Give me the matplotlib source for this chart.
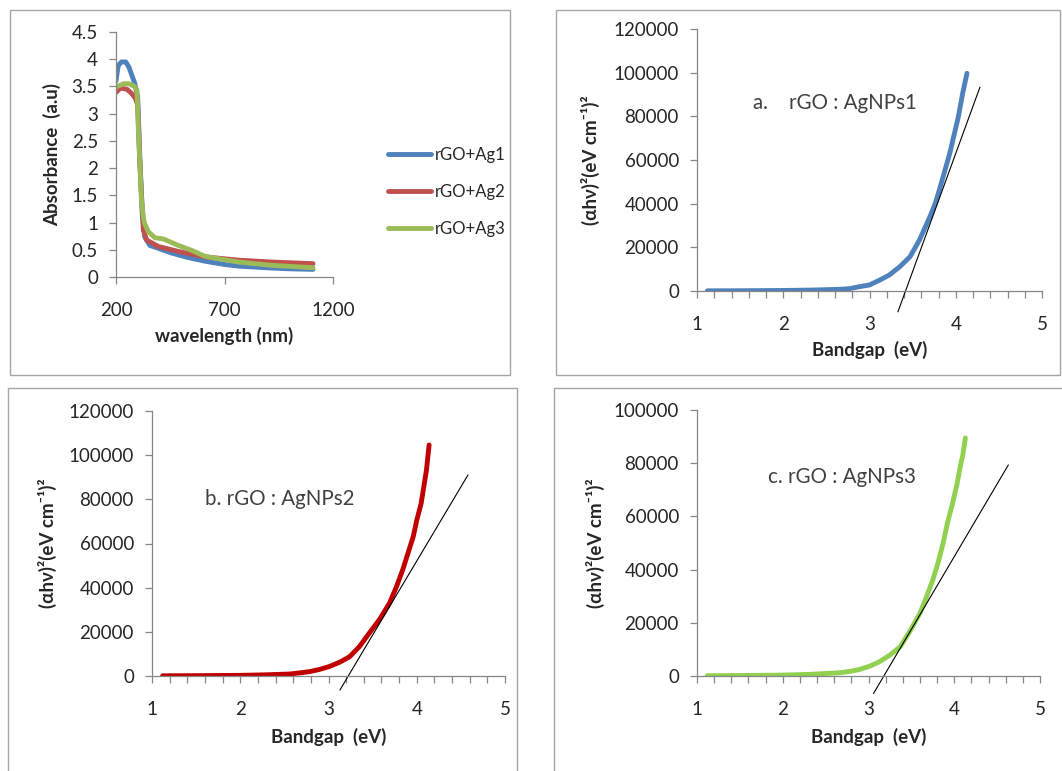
import numpy as np
import matplotlib
matplotlib.use('Agg')
import matplotlib.pyplot as plt
from matplotlib.patches import Rectangle
from matplotlib.ticker import MultipleLocator

plt.rcParams['font.family'] = ['Lato', 'DejaVu Sans']

# UV-vis absorbance
wl_ag1 = [200, 210, 225, 245, 260, 287, 300, 310, 321, 333, 356, 400, 456, 530, 610, 700, 763, 850, 916, 1000, 1108]
abs_ag1 = [3.6, 3.88, 3.95, 3.95, 3.85, 3.55, 3.3, 2.2, 1.16, 0.73, 0.58, 0.52, 0.44, 0.36, 0.29, 0.23, 0.2, 0.18, 0.165, 0.15, 0.14]
wl_ag2 = [200, 220, 250, 270, 290, 300, 310, 326, 341, 395, 487, 610, 763, 916, 1108]
abs_ag2 = [3.39, 3.47, 3.45, 3.38, 3.28, 3.15, 2.08, 0.86, 0.68, 0.56, 0.47, 0.37, 0.31, 0.275, 0.245]
wl_ag3 = [200, 235, 260, 285, 297, 303, 318, 330, 349, 380, 400, 418, 487, 548, 610, 763, 916, 1108]
abs_ag3 = [3.49, 3.55, 3.55, 3.5, 3.43, 2.7, 1.35, 1.0, 0.83, 0.72, 0.71, 0.70, 0.58, 0.49, 0.38, 0.275, 0.215, 0.17]

# Tauc plots (alpha h nu)^2 vs photon energy
e_a = [1.12, 1.5, 2.0, 2.3, 2.65, 2.77, 2.88, 3.0, 3.12, 3.23, 3.35, 3.47, 3.58, 3.64, 3.70,
       3.76, 3.81, 3.87, 3.93, 3.98, 4.03, 4.08, 4.13]
t_a = [80, 120, 250, 400, 780, 1070, 1970, 2750, 5040, 7330, 11100, 15700, 23400, 28700, 34000,
       39800, 46300, 54600, 63000, 71400, 79800, 90500, 99700]
fit_a = [3.33, 4.28]
fit_a_y = [-9480, 93300]

e_b = [1.12, 1.5, 2.0, 2.3, 2.56, 2.67, 2.79, 2.90, 3.01, 3.13, 3.24, 3.35, 3.46, 3.58, 3.69,
       3.77, 3.84, 3.90, 3.96, 4.00, 4.05, 4.08, 4.11, 4.14]
t_b = [100, 150, 300, 550, 900, 1400, 2000, 3000, 4300, 6300, 8750, 13300, 19300, 25700, 32900,
       40400, 48000, 55500, 63100, 70500, 78200, 85700, 93300, 104600]
fit_b = [3.13, 4.58]
fit_b_y = [-6300, 91000]

e_c = [1.12, 1.5, 2.0, 2.3, 2.67, 2.79, 2.90, 3.02, 3.13, 3.25, 3.37, 3.48, 3.60, 3.67, 3.75,
       3.81, 3.87, 3.92, 3.98, 4.03, 4.07, 4.10, 4.13]
t_c = [100, 180, 350, 600, 1240, 1760, 2500, 3760, 5400, 7900, 11000, 16700, 23600, 29200, 36100,
       42400, 49900, 57400, 64900, 71800, 78700, 83100, 89500]
fit_c = [3.06, 4.63]
fit_c_y = [-6500, 79300]

W, H = 1062, 771
fig = plt.figure(figsize=(W / 100, H / 100), dpi=100)

axis_col = '#868686'
txt_col = '#262626'
fs = 13.5


def box(x0, y0, x1, y1):
    fig.patches.append(Rectangle((x0 / W, 1 - y1 / H), (x1 - x0) / W, (y1 - y0) / H,
                                 transform=fig.transFigure, fill=False,
                                 edgecolor='#a6a6a6', lw=1.0))


def make_ax(x0, x1, y0, y1):
    ax = fig.add_axes([x0 / W, 1 - y1 / H, (x1 - x0) / W, (y1 - y0) / H])
    for s in ['top', 'right']:
        ax.spines[s].set_visible(False)
    for s in ['left', 'bottom']:
        ax.spines[s].set_color(axis_col)
        ax.spines[s].set_linewidth(0.9)
    ax.tick_params(which='both', direction='out', color=axis_col, labelcolor=txt_col,
                   labelsize=fs, width=0.9, length=5)
    ax.tick_params(axis='x', pad=13)
    ax.tick_params(axis='y', pad=8)
    return ax


box(10, 10, 510, 375)
box(556, 10, 1060, 375)
box(8, 388, 517, 775)
box(554, 388, 1066, 775)

# top-left: absorbance
ax1 = make_ax(116, 333, 32, 277)
ax1.plot(wl_ag1, abs_ag1, color='#4F81BD', lw=3.5, label='rGO+Ag1', solid_capstyle='round')
ax1.plot(wl_ag2, abs_ag2, color='#C0504D', lw=3.5, label='rGO+Ag2', solid_capstyle='round')
ax1.plot(wl_ag3, abs_ag3, color='#9BBB59', lw=3.5, label='rGO+Ag3', solid_capstyle='round')
ax1.set_xlim(200, 1200)
ax1.set_ylim(0, 4.5)
ax1.set_xticks([200, 700, 1200])
ax1.set_yticks(np.arange(0, 4.51, 0.5))
ax1.set_yticklabels(['0', '0.5', '1', '1.5', '2', '2.5', '3', '3.5', '4', '4.5'])
ax1.set_xlabel('wavelength (nm)', fontsize=fs, fontweight='bold', color=txt_col)
ax1.set_ylabel('Absorbance  (a.u)', fontsize=fs, fontweight='bold', color=txt_col)
ax1.xaxis.set_label_coords(0.5, -(336 - 277) / 245)
ax1.xaxis.label.set_va('center')
ax1.yaxis.set_label_coords((52 - 116) / 217, 0.5)
ax1.yaxis.label.set_va('center')
leg = ax1.legend(loc='center left', bbox_to_anchor=(388 / W, 1 - 192 / H),
                 bbox_transform=fig.transFigure, frameon=False, fontsize=12,
                 handlelength=2.6, handletextpad=0.2, labelspacing=1.25,
                 borderpad=0, borderaxespad=0)
for t in leg.get_texts():
    t.set_color(txt_col)

ylab = '(αhν)²(eV cm⁻¹)²'


def tauc(ax, e, t, fx, fy, color, ymax, label, lx, ly, xlab_y, ylab_x):
    ax.plot(e, t, color=color, lw=3.5, solid_capstyle='round', solid_joinstyle='round')
    ax.plot(fx, fy, color='black', lw=0.8, clip_on=False)
    ax.set_xlim(1, 5)
    ax.set_ylim(0, ymax)
    ax.xaxis.set_major_locator(MultipleLocator(1))
    ax.xaxis.set_minor_locator(MultipleLocator(0.2))
    ax.yaxis.set_major_locator(MultipleLocator(20000))
    ax.set_xlabel('Bandgap  (eV)', fontsize=fs, fontweight='bold', color=txt_col)
    ax.set_ylabel(ylab, fontsize=fs, fontweight='bold', color=txt_col)
    ax.xaxis.set_label_coords(0.5, xlab_y)
    ax.xaxis.label.set_va('center')
    ax.yaxis.set_label_coords(ylab_x, 0.5)
    ax.yaxis.label.set_va('center')
    ax.text(lx, ly, label, transform=ax.transAxes, fontsize=14.8, color='#404040',
            ha='left', va='center')


ax2 = make_ax(697, 1042, 29, 291)
tauc(ax2, e_a, t_a, fit_a, fit_a_y, '#4F81BD', 120000, 'a.    rGO : AgNPs1',
     (753 - 697) / 345, (291 - 103) / 262, -(350 - 291) / 262, (590 - 697) / 345)

ax3 = make_ax(152, 505, 411, 676)
tauc(ax3, e_b, t_b, fit_b, fit_b_y, '#C00000', 120000, 'b. rGO : AgNPs2',
     (205 - 152) / 353, (676 - 499) / 265, -(737 - 676) / 265, (47 - 152) / 353)

ax4 = make_ax(697, 1040, 410, 676)
tauc(ax4, e_c, t_c, fit_c, fit_c_y, '#92D050', 100000, 'c. rGO : AgNPs3',
     (768 - 697) / 343, (676 - 477) / 266, -(737 - 676) / 266, (595 - 697) / 343)

fig.savefig('out.png', dpi=100)
